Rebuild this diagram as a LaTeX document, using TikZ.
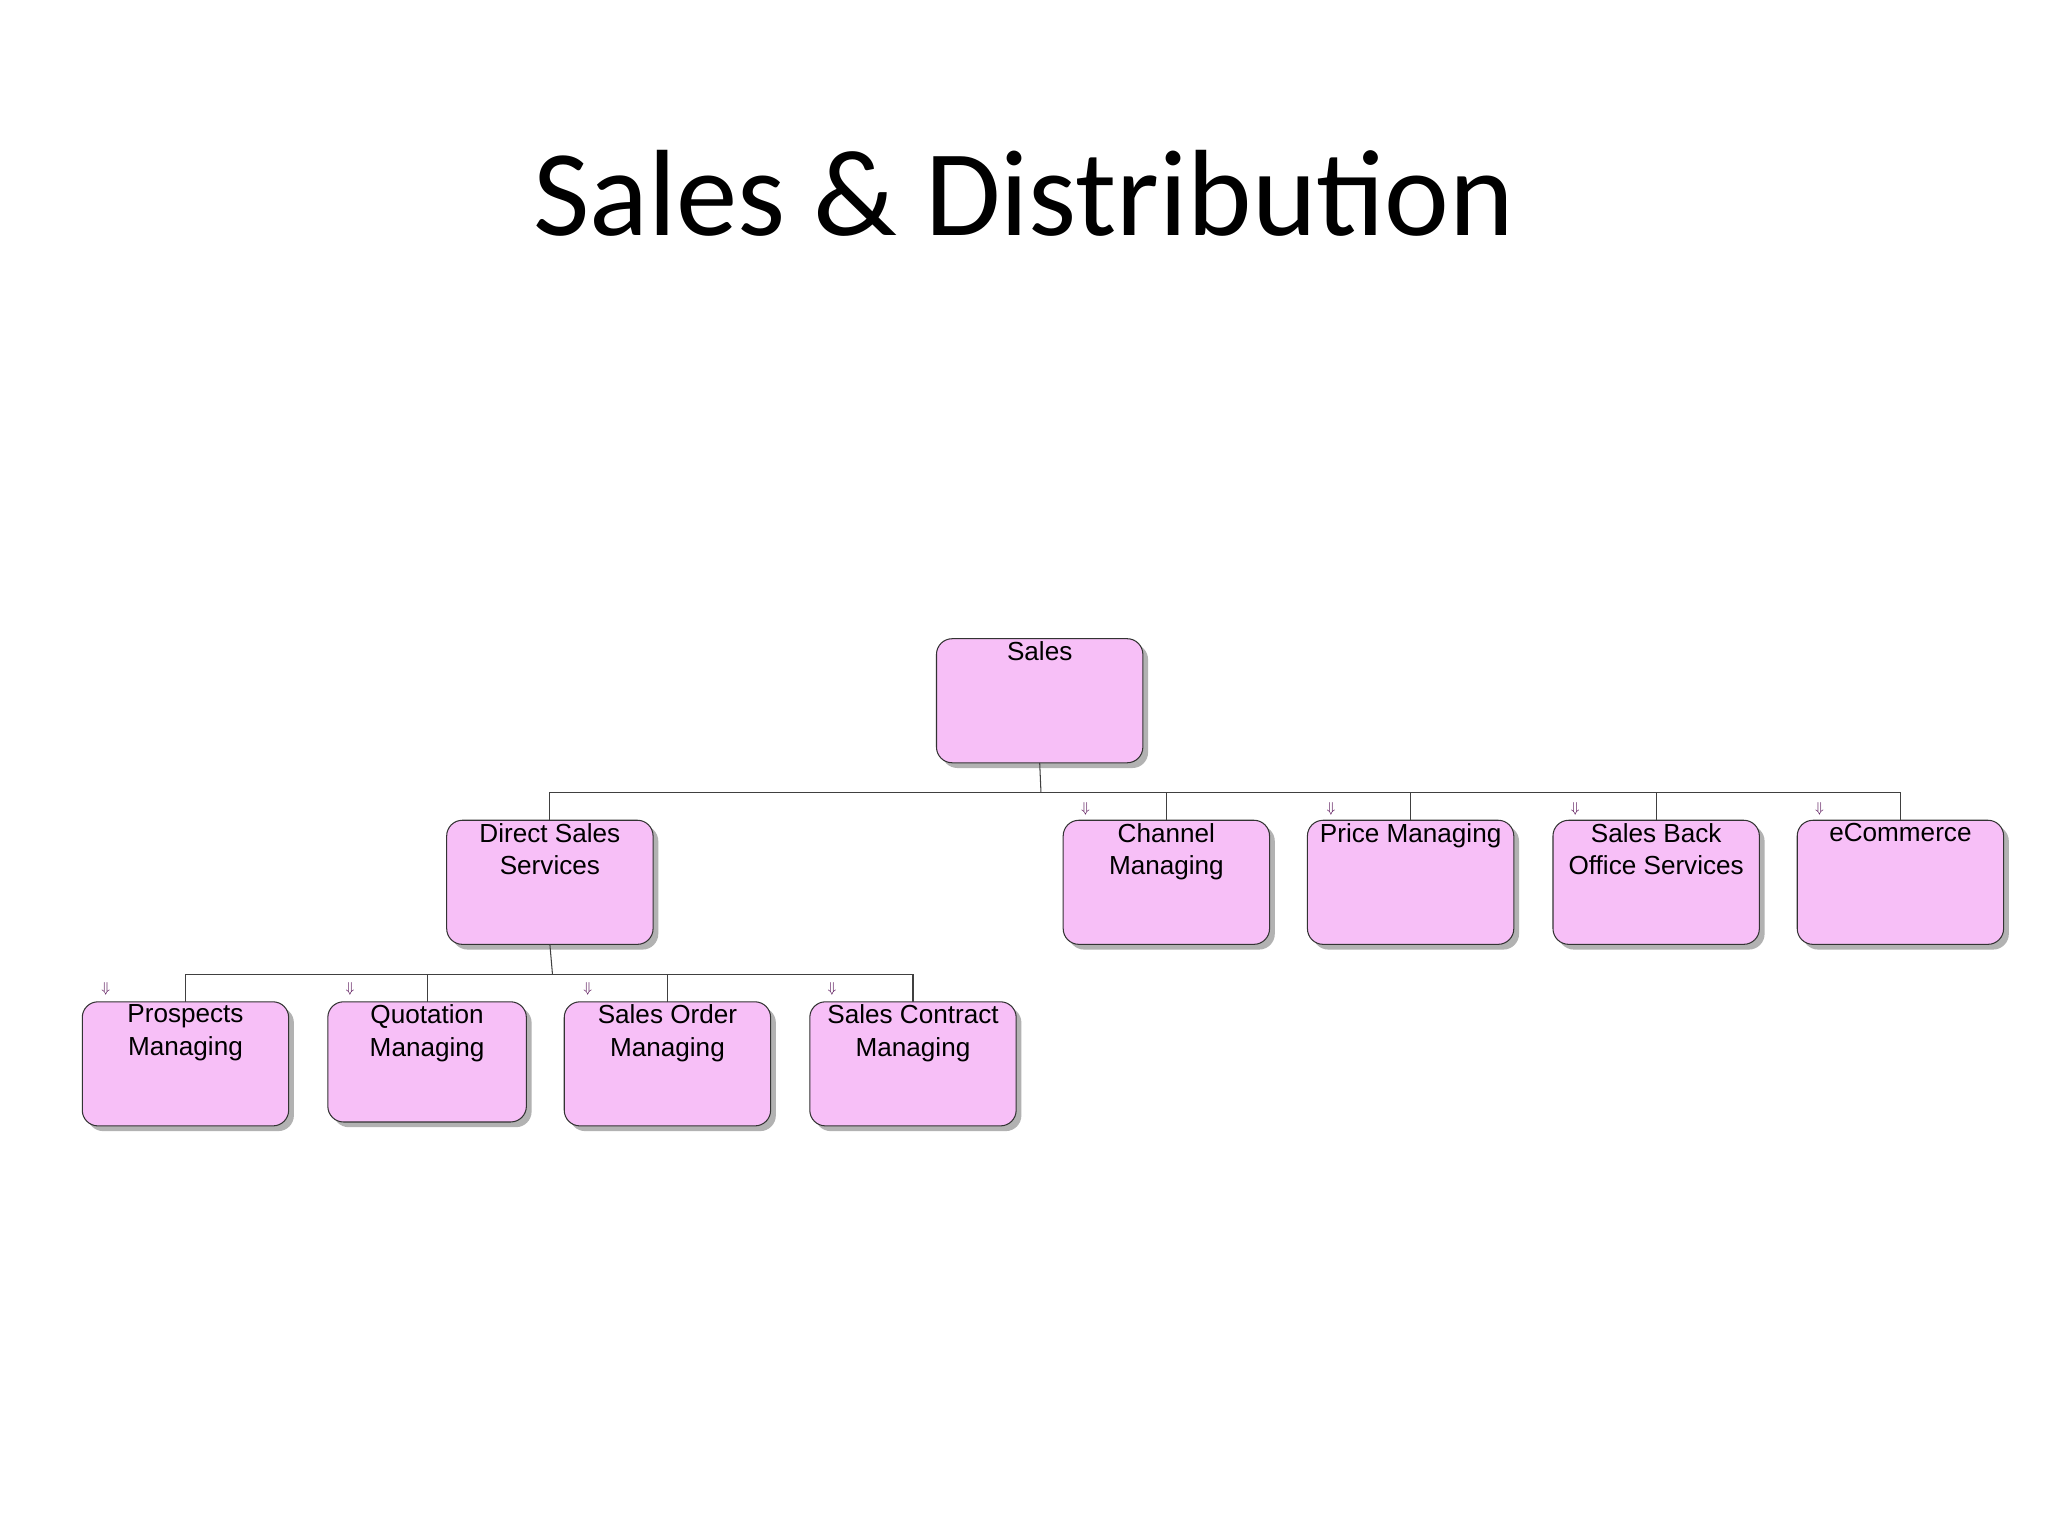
\documentclass[tikz,border=0pt]{standalone}
\usepackage{fontspec}
\setmainfont{Liberation Sans}
\newfontfamily\titlefont{Carlito}
\usetikzlibrary{positioning}
\tikzset{
  boxs/.style={draw=black!80, line width=0.8pt, fill=violet!25!magenta!25!white, rounded corners=12pt},
  shadowbox/.style={fill=black!30, rounded corners=12pt},
  lbl/.style={anchor=north, align=center, inner sep=0pt, font=\fontsize{20}{25}\selectfont},
  conn/.style={draw=black!75, line width=0.8pt},
  dnarrow/.style={font=\fontsize{11}{11}\selectfont, text=violet!60!black, inner sep=0pt}
}
\newcommand{\mybox}[6]{%
  \fill[shadowbox] (#2+4,-#3-4) rectangle (#4+4,-#5-4);
  \draw[boxs] (#2,-#3) rectangle (#4,-#5);
  \coordinate (#1-n) at ({(#2+#4)/2},-#3);
  \coordinate (#1-s) at ({(#2+#4)/2},-#5);
  \node[lbl] (#1) at ({(#2+#4)/2},-#3-2) {#6};
}
\begin{document}
\begin{tikzpicture}[x=1pt,y=1pt]
\fill[white] (0,0) rectangle (1568,-1176);
\useasboundingbox (0,0) rectangle (1568,-1176);
\node[font=\titlefont\fontsize{94}{100}\selectfont] (title) at (784,-148) {Sales \& Distribution};
% connectors
\coordinate (j1) at (797,-607);
\coordinate (j2) at (423,-746);
\mybox{sales}{717}{489}{875}{584}{Sales}
\mybox{dss}{342}{628}{500}{723}{Direct Sales\\Services}
\mybox{chan}{814}{628}{972}{723}{Channel\\Managing}
\mybox{price}{1001}{628}{1159}{723}{Price Managing}
\mybox{sbo}{1189}{628}{1347}{723}{Sales Back\\Office Services}
\mybox{ecom}{1376}{628}{1534}{723}{eCommerce}
\mybox{pros}{63}{767}{221}{862}{Prospects\\Managing}
\mybox{quot}{251}{767}{403}{859}{Quotation\\Managing}
\mybox{so}{432}{767}{590}{862}{Sales Order\\Managing}
\mybox{sc}{620}{767}{778}{862}{Sales Contract\\Managing}
\draw[conn] (sales-s) -- (j1);
\draw[conn] (dss-n) |- (j1) -| (ecom-n);
\draw[conn] (j1) -| (chan-n);
\draw[conn] (j1) -| (price-n);
\draw[conn] (j1) -| (sbo-n);
\draw[conn] (dss-s) -- (j2);
\draw[conn] (pros-n) |- (j2) -| (sc-n);
\draw[conn] (j2) -| (quot-n);
\draw[conn] (j2) -| (so-n);
% small arrows
\foreach \n/\x/\y in {a1/831/619,a2/1019/619,a3/1206/619,a4/1393/619,b1/81/757,b2/268/757,b3/450/757,b4/637/757}{
  \node[dnarrow] (\n) at (\x,-\y) {$\Downarrow$};
}
\end{tikzpicture}
\end{document}
